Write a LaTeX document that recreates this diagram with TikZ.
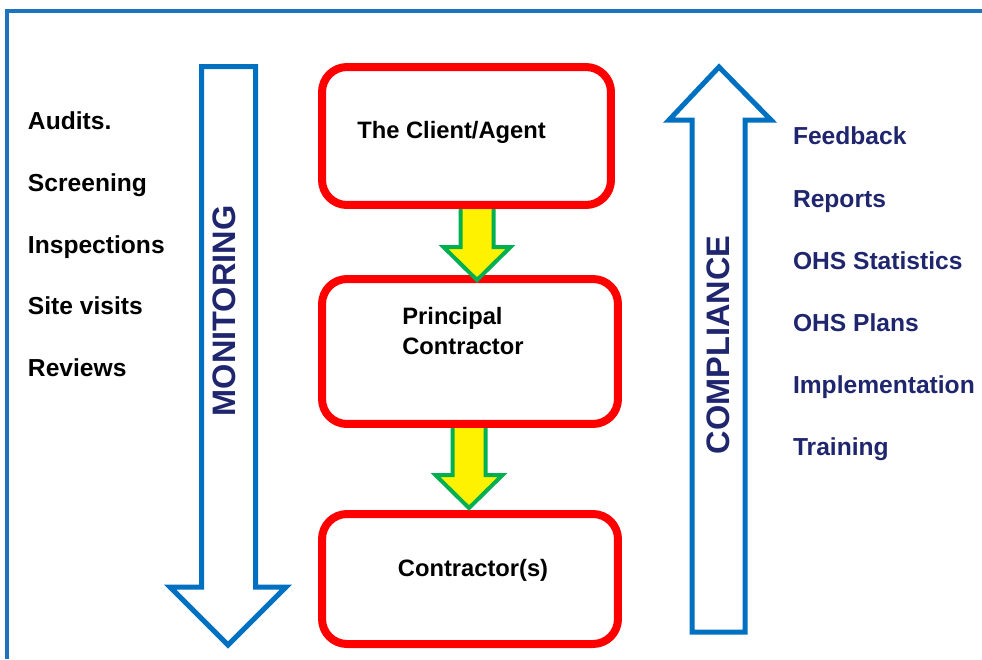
\documentclass[tikz,border=0pt]{standalone}
\usepackage{fontspec}
\setmainfont{Liberation Sans}
\usepackage{tikz}
\usetikzlibrary{matrix,calc}

\definecolor{frameblue}{RGB}{30,115,190}
\definecolor{arrowblue}{RGB}{0,112,192}
\definecolor{navy}{RGB}{31,38,110}
\definecolor{flowgreen}{RGB}{0,176,80}

\tikzset{
  stagebox/.style={draw=red, line width=0.16cm, rounded corners=0.5cm, inner sep=0pt, outer sep=0pt},
  flowline/.style={draw=flowgreen, fill=yellow, line width=0.08cm, line join=miter},
  bigarrow/.style={draw=arrowblue, fill=white, line width=0.1cm, line join=miter},
  listtext/.style={font=\fontsize{14}{16}\selectfont\bfseries, inner sep=0pt, outer sep=0pt,
    text height=12pt, text depth=4pt, anchor=base west},
  boxtext/.style={font=\fontsize{13.5}{15.5}\selectfont\bfseries, inner sep=0pt},
  sidetext/.style={font=\fontsize{18.5}{21}\selectfont\bfseries, text=navy, rotate=90}
}

\newcommand{\flowarrow}[2]{%
  \draw[flowline] ($(#1)+(-16.5,0)$) -- ($(#2)+(-16.5,-33)$) -- ($(#2)+(-33.5,-33)$) -- (#2)
    -- ($(#2)+(33.5,-33)$) -- ($(#2)+(16.5,-33)$) -- ($(#1)+(16.5,0)$) -- cycle;}

\begin{document}
\begin{tikzpicture}[x=0.02cm,y=-0.02cm]
\useasboundingbox (0,0) rectangle (982,659);
\draw[frameblue, line width=0.08cm] (7,659) -- (7,11) -- (982,11);

% monitoring and compliance
\draw[bigarrow] (201.5,66.5) -- (255.5,66.5) -- (255.5,587) -- (286,587) -- (228,645)
   -- (170,587) -- (201.5,587) -- cycle;
\draw[bigarrow] (692,632) -- (692,120) -- (669,120) -- (719,67) -- (771,120) -- (745,120)
   -- (745,632) -- cycle;
\node[sidetext] (monitoring) at (224,311) {MONITORING};
\node[sidetext] (compliance) at (718,345) {COMPLIANCE};

% stages
\node[stagebox, minimum width=5.78cm, minimum height=2.76cm] (clientbox) at (466.5,136) {};
\node[stagebox, minimum width=5.92cm, minimum height=2.9cm] (principalbox) at (470,351.5) {};
\node[stagebox, minimum width=5.92cm, minimum height=2.6cm] (contractorbox) at (470,579) {};

\coordinate (up1) at ($(clientbox.south)+(10.5,0)$);
\coordinate (tip1) at ($(up1 |- principalbox.north)+(0,1)$);
\coordinate (up2) at ($(principalbox.south)+(-1,0)$);
\coordinate (tip2) at ($(up2 |- contractorbox.north)+(0,-6)$);
\flowarrow{up1}{tip1}
\flowarrow{up2}{tip2}
\draw[red, line width=0.16cm] ($(clientbox.south west)+(25,0)$) -- ($(clientbox.south east)+(-25,0)$);
\draw[red, line width=0.16cm] ($(principalbox.south west)+(25,0)$) -- ($(principalbox.south east)+(-25,0)$);

\node[boxtext, anchor=base west] (client) at (357,138) {The Client/Agent};
\node[boxtext, anchor=north west, align=left] (principal) at (402,307) {Principal\\[1.5pt]Contractor};
\node[boxtext, anchor=base] (contractors) at (473,576) {Contractor(s)};

% checks
\matrix (checks) [matrix of nodes, nodes={listtext}, row sep=0.67cm, inner sep=0pt,
   outer sep=0pt, anchor=north west] at (28,108.8) {
  Audits.\\
  Screening\\
  Inspections\\
  Site visits\\
  Reviews\\
};

\matrix (returns) [matrix of nodes, nodes={listtext, text=navy}, row sep=0.682cm, inner sep=0pt,
   outer sep=0pt, anchor=north west] at (793,123.8) {
  Feedback\\
  Reports\\
  OHS Statistics\\
  OHS Plans\\
  Implementation\\
  Training\\
};
\end{tikzpicture}
\end{document}
